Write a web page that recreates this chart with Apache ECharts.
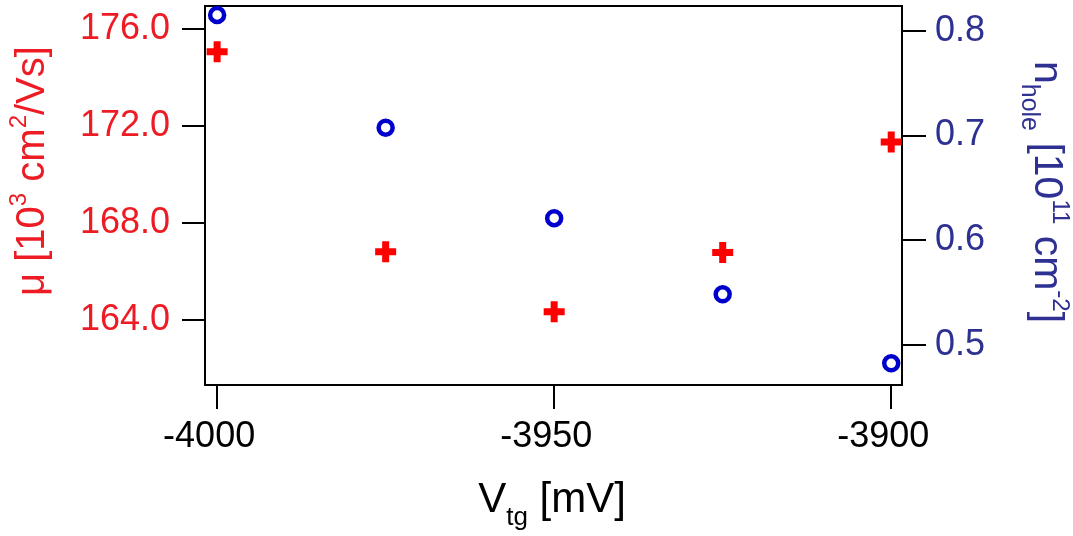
<!DOCTYPE html>
<html>
<head>
<meta charset="utf-8">
<script src="https://cdn.jsdelivr.net/npm/echarts@6/dist/echarts.min.js"></script>
<style>
html,body{margin:0;padding:0;background:#fff;}
#chart{width:1073px;height:536px;}
</style>
</head>
<body>
<div id="chart"></div>
<script>
const vtg = [-4000, -3975, -3950, -3925, -3900];
const mobility = [175.06, 166.82, 164.34, 166.78, 171.34];
const density = [0.815, 0.7074, 0.621, 0.5484, 0.4825];
const xTicks = [-4000, -3950, -3900];
const muTicks = [164, 168, 172, 176];
const nTicks = [0.5, 0.6, 0.7, 0.8];

const RED_TXT = '#ed1c24';
const BLUE_TXT = '#2e3192';
const FONT = '"Liberation Sans", Arial, sans-serif';

const chart = echarts.init(document.getElementById('chart'));

const plusPath = 'path://M7,0H14V7H21V14H14V21H7V14H0V7H7Z';

chart.setOption({
  animation: false,
  backgroundColor: '#fff',
  grid: {
    left: 205, top: 6, right: 171, bottom: 151,
    show: true, borderColor: '#000', borderWidth: 2, backgroundColor: 'transparent'
  },
  xAxis: {
    type: 'value', min: -4001.8, max: -3898.4,
    axisLine: { show: false },
    splitLine: { show: false },
    axisTick: { show: true, inside: false, length: 24, customValues: xTicks, lineStyle: { color: '#000', width: 2 } },
    axisLabel: { customValues: xTicks, margin: 34, color: '#000', fontSize: 36, fontFamily: FONT, padding: [0, 16, 0, 0], formatter: v => String(v) }
  },
  yAxis: [
    {
      type: 'value', min: 161.32, max: 176.95, position: 'left',
      axisLine: { show: false },
      splitLine: { show: false },
      axisTick: { show: true, length: 23, customValues: muTicks, lineStyle: { color: '#000', width: 2 } },
      axisLabel: { customValues: muTicks, margin: 35, color: RED_TXT, fontSize: 36, fontFamily: FONT, formatter: v => v.toFixed(1) }
    },
    {
      type: 'value', min: 0.4618, max: 0.8236, position: 'right',
      axisLine: { show: false },
      splitLine: { show: false },
      axisTick: { show: true, length: 24, customValues: nTicks, lineStyle: { color: '#000', width: 2 } },
      axisLabel: { customValues: nTicks, margin: 33, color: BLUE_TXT, fontSize: 36, fontFamily: FONT, formatter: v => v.toFixed(1) }
    }
  ],
  series: [
    {
      type: 'scatter', yAxisIndex: 0,
      data: vtg.map((x, i) => [x, mobility[i]]),
      symbol: plusPath, symbolSize: 21,
      itemStyle: { color: '#ff0000', opacity: 1 }
    },
    {
      type: 'scatter', yAxisIndex: 1,
      data: vtg.map((x, i) => [x, density[i]]),
      symbol: 'circle', symbolSize: 14,
      itemStyle: { color: '#ffffff', borderColor: '#0000cc', borderWidth: 4.5, opacity: 1 }
    }
  ],
  graphic: [
    {
      type: 'text', x: 30, y: 171, rotation: Math.PI / 2,
      style: {
        text: '{m|μ [10}{sup|3}{m| cm}{sup|2}{m|/Vs]}',
        align: 'center', verticalAlign: 'middle',
        fill: RED_TXT,
        rich: {
          m: { fontSize: 40, fontFamily: FONT, fill: RED_TXT, lineHeight: 46, verticalAlign: 'bottom' },
          sup: { fontSize: 24, fontFamily: FONT, fill: RED_TXT, lineHeight: 46, verticalAlign: 'top' }
        }
      }
    },
    {
      type: 'text', x: 1049, y: 192, rotation: -Math.PI / 2,
      style: {
        text: '{m|n}{sub|hole}{m| [10}{sup|11}{m| cm}{sup|-2}{m|]}',
        align: 'center', verticalAlign: 'middle',
        fill: BLUE_TXT,
        rich: {
          m: { fontSize: 41, fontFamily: FONT, fill: BLUE_TXT, lineHeight: 46, verticalAlign: 'bottom' },
          sup: { fontSize: 24, fontFamily: FONT, fill: BLUE_TXT, lineHeight: 46, verticalAlign: 'top' },
          sub: { fontSize: 25, fontFamily: FONT, fill: BLUE_TXT, lineHeight: 30, verticalAlign: 'bottom', padding: [0, 0, -10, 0] }
        }
      }
    },
    {
      type: 'text', x: 552, y: 497,
      style: {
        text: '{m|V}{sub|tg}{m| [mV]}',
        align: 'center', verticalAlign: 'middle',
        fill: '#000',
        rich: {
          m: { fontSize: 42, fontFamily: FONT, fill: '#000', lineHeight: 48, verticalAlign: 'bottom' },
          sub: { fontSize: 26, fontFamily: FONT, fill: '#000', lineHeight: 30, verticalAlign: 'bottom', padding: [0, 0, -10, 0] }
        }
      }
    }
  ]
});
</script>
</body>
</html>
